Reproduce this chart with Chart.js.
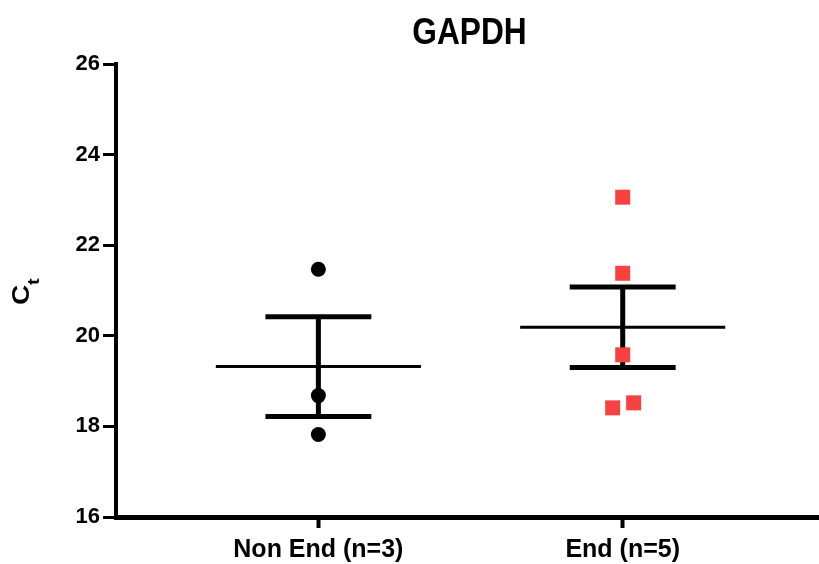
<!DOCTYPE html>
<html>
<head>
<meta charset="utf-8">
<script src="https://cdn.jsdelivr.net/npm/chart.js@4"></script>
<style>
  html, body { margin: 0; padding: 0; background: #fff; }
  #chart { display: block; }
</style>
</head>
<body>
<canvas id="chart" width="819" height="564"></canvas>
<script>
// groups and their x positions
const groups = ["Non End (n=3)", "End (n=5)"];
const groupX = [1, 2];

// individual Ct values
const nonEndCt = [21.47, 18.68, 17.82];
const nonEndX = [1, 1, 1];
const endCt = [23.06, 21.38, 19.58, 18.41, 18.52];
const endX = [2, 2, 2, 1.967, 2.036];

// mean and SEM for each group
const means = [19.32, 20.19];
const sems = [1.10, 0.89];

// y axis ticks
const yTicks = [16, 18, 20, 22, 24, 26];

const meanHalf = 0.337; // half width of the mean line, in x units
const capHalf = 0.174;  // half width of the SEM caps

const errorSets = [];
groupX.forEach((gx, i) => {
  const m = means[i], s = sems[i];
  errorSets.push({
    data: [{ x: gx - meanHalf, y: m }, { x: gx + meanHalf, y: m }],
    borderColor: "#000", borderWidth: 3, pointRadius: 0, showLine: true, order: 2
  });
  errorSets.push({
    data: [{ x: gx, y: m - s }, { x: gx, y: m + s }],
    borderColor: "#000", borderWidth: 5, pointRadius: 0, showLine: true, order: 2
  });
  [m + s, m - s].forEach((v) => {
    errorSets.push({
      data: [{ x: gx - capHalf, y: v }, { x: gx + capHalf, y: v }],
      borderColor: "#000", borderWidth: 5, pointRadius: 0, showLine: true, order: 2
    });
  });
});

// title and the rotated "Ct" axis label (the original font is a bit condensed)
const extraText = {
  id: "extraText",
  afterDraw(chart) {
    const ctx = chart.ctx;
    const area = chart.chartArea;
    ctx.save();
    ctx.fillStyle = "#000";
    ctx.textAlign = "center";
    ctx.textBaseline = "alphabetic";
    ctx.translate((area.left + area.right) / 2 + 2, 44);
    ctx.scale(0.88, 1);
    ctx.font = "bold 36px 'Liberation Sans', Arial, sans-serif";
    ctx.fillText("GAPDH", 0, 0);
    ctx.restore();

    ctx.save();
    ctx.fillStyle = "#000";
    ctx.translate(29, 305);
    ctx.rotate(-Math.PI / 2);
    ctx.scale(1, 0.85);
    ctx.textAlign = "left";
    ctx.font = "bold 28px 'Liberation Sans', Arial, sans-serif";
    ctx.fillText("C", 0, 0);
    ctx.font = "bold 20px 'Liberation Sans', Arial, sans-serif";
    ctx.fillText("t", 20, 12);
    ctx.restore();
  }
};

new Chart(document.getElementById("chart"), {
  type: "scatter",
  data: {
    datasets: [
      {
        data: nonEndCt.map((v, i) => ({ x: nonEndX[i], y: v })),
        backgroundColor: "#000",
        pointStyle: "circle",
        pointRadius: 7.5,
        pointBorderWidth: 0,
        order: 0
      },
      {
        data: endCt.map((v, i) => ({ x: endX[i], y: v })),
        backgroundColor: "rgb(248,66,66)",
        pointStyle: "rect",
        pointRadius: 10.6,
        pointBorderWidth: 0,
        order: 0
      },
      ...errorSets
    ]
  },
  options: {
    responsive: false,
    devicePixelRatio: 1,
    animation: false,
    layout: { autoPadding: false, padding: { top: 64, right: 0, left: 0, bottom: 0 } },
    plugins: {
      legend: { display: false },
      tooltip: { enabled: false },
      title: { display: false }
    },
    scales: {
      x: {
        type: "linear",
        min: 0.335,
        max: 2.645,
        afterBuildTicks: (axis) => { axis.ticks = groupX.map((v) => ({ value: v })); },
        afterFit: (scale) => { scale.height = 47; },
        ticks: {
          color: "#000",
          font: { family: "'Liberation Sans', Arial, sans-serif", size: 25, weight: "bold" },
          padding: 7,
          maxRotation: 0,
          callback: (v) => groups[groupX.indexOf(v)]
        },
        grid: { display: true, drawOnChartArea: false, drawTicks: true, tickLength: 11, tickWidth: 4, tickColor: "#000" },
        border: { display: true, width: 5, color: "#000" }
      },
      y: {
        min: 16,
        max: 26,
        afterBuildTicks: (axis) => { axis.ticks = yTicks.map((v) => ({ value: v })); },
        afterFit: (scale) => { scale.width = 116; },
        ticks: {
          color: "#000",
          font: { family: "'Liberation Sans', Arial, sans-serif", size: 22, weight: "bold" },
          padding: 3
        },
        grid: { display: true, drawOnChartArea: false, drawTicks: true, tickLength: 13, tickWidth: 3, tickColor: "#000" },
        border: { display: true, width: 4, color: "#000" }
      }
    }
  },
  plugins: [extraText]
});
</script>
</body>
</html>
